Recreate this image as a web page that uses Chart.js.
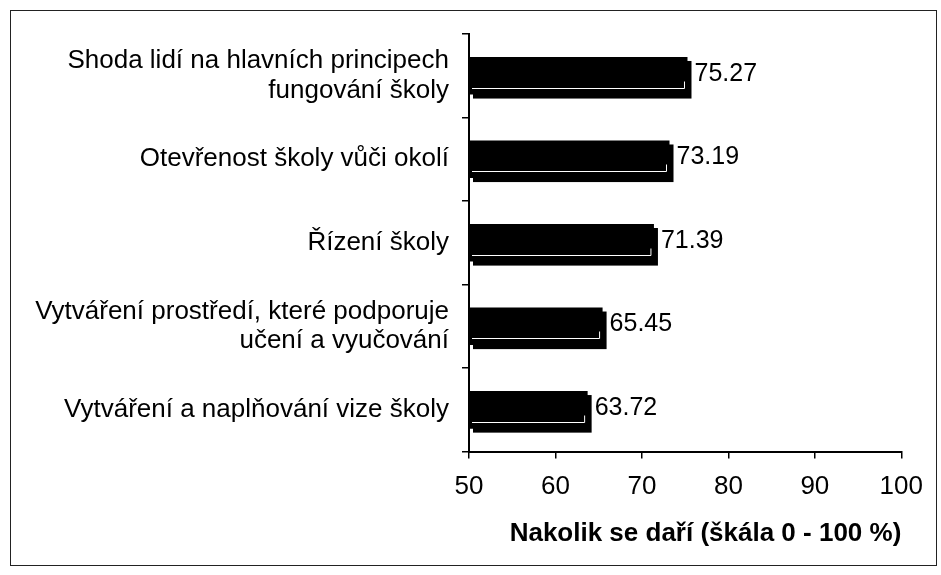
<!DOCTYPE html>
<html lang="cs">
<head>
    <meta charset="UTF-8">
    <title>Nakolik se daří</title>
    <script src="https://cdn.jsdelivr.net/npm/chart.js"></script>
    <style>
        body {
            margin: 0;
            background: #fff;
            font-family: "Liberation Sans", Arial, sans-serif;
        }
        .ramecek {
            position: absolute;
            left: 10px;
            top: 10px;
            width: 925px;
            height: 554px;
            border: 1.5px solid #222;
        }
    </style>
</head>
<body>
    <div class="ramecek">
        <canvas id="graf" width="925" height="554"></canvas>
    </div>

    <script>
        // oblasti a hodnoty
        const oblasti = [
            ["Shoda lidí na hlavních principech", "fungování školy"],
            "Otevřenost školy vůči okolí",
            "Řízení školy",
            ["Vytváření prostředí, které podporuje", "učení a vyučování"],
            "Vytváření a naplňování vize školy"
        ];
        const hodnoty = [75.27, 73.19, 71.39, 65.45, 63.72];
        const osaX = [50, 60, 70, 80, 90, 100];
        const popisX = "Nakolik se daří (škála 0 - 100 %)";

        // začátek sloupce = levý okraj osy (base sloupce je u nuly, mimo graf)
        function zacatek(chart, bar) {
            return Math.max(bar.base, chart.chartArea.left);
        }

        // stín za sloupci (3D efekt jako v Excelu)
        const stin = {
            id: "stin",
            beforeDatasetsDraw(chart) {
                const ctx = chart.ctx;
                ctx.save();
                ctx.fillStyle = "#000";
                chart.getDatasetMeta(0).data.forEach(bar => {
                    const x0 = zacatek(chart, bar);
                    const h = bar.height;
                    ctx.fillRect(x0 + 4, bar.y - h / 2 + 4, bar.x - x0, h);
                });
                ctx.restore();
            }
        };

        // bílá linka dole na sloupci + hodnoty vedle sloupců
        const popisky = {
            id: "popisky",
            afterDatasetsDraw(chart) {
                const ctx = chart.ctx;
                const bary = chart.getDatasetMeta(0).data;
                ctx.save();
                ctx.strokeStyle = "#fff";
                ctx.lineWidth = 1;
                bary.forEach(bar => {
                    const x0 = zacatek(chart, bar);
                    const y = Math.round(bar.y + bar.height / 2 - 7) + 0.5;
                    ctx.beginPath();
                    ctx.moveTo(x0 + 3, y);
                    ctx.lineTo(bar.x - 3, y);
                    ctx.lineTo(bar.x - 3, y - 7);
                    ctx.stroke();
                });
                ctx.fillStyle = "#000";
                ctx.font = "25px 'Liberation Sans', Arial, sans-serif";
                ctx.textBaseline = "middle";
                ctx.textAlign = "left";
                bary.forEach((bar, i) => {
                    ctx.fillText(hodnoty[i].toFixed(2), bar.x + 7, bar.y - 2);
                });
                ctx.restore();
            }
        };

        Chart.defaults.font.family = "'Liberation Sans', Arial, sans-serif";
        Chart.defaults.color = "#000";

        new Chart(document.getElementById("graf"), {
            type: "bar",
            data: {
                labels: oblasti,
                datasets: [{
                    data: hodnoty,
                    backgroundColor: "#000",
                    borderWidth: 0,
                    barPercentage: 0.45,
                    categoryPercentage: 1
                }]
            },
            options: {
                indexAxis: "y",
                responsive: false,
                animation: false,
                layout: { padding: { top: 23, right: 32, bottom: 14, left: 0 } },
                plugins: {
                    legend: { display: false },
                    tooltip: { enabled: false }
                },
                scales: {
                    x: {
                        min: 50,
                        max: 100,
                        afterBuildTicks(scale) {
                            scale.ticks = osaX.map(v => ({ value: v }));
                        },
                        grid: {
                            drawOnChartArea: false,
                            drawTicks: true,
                            tickLength: 7,
                            color: "#000",
                            lineWidth: 1.5
                        },
                        border: { color: "#000", width: 2 },
                        ticks: {
                            padding: 13,
                            font: { size: 26 }
                        },
                        title: {
                            display: true,
                            text: popisX,
                            align: "end",
                            font: { size: 26, weight: "bold" },
                            padding: { top: 2, bottom: 2 }
                        }
                    },
                    y: {
                        afterFit(scale) {
                            scale.width = 458;
                            scale.paddingTop = 0;
                            scale.paddingBottom = 0;
                        },
                        grid: {
                            drawOnChartArea: false,
                            drawTicks: true,
                            tickLength: 7,
                            color: "#000",
                            lineWidth: 1.5,
                            offset: true
                        },
                        border: { color: "#000", width: 2 },
                        ticks: {
                            padding: 13,
                            font: { size: 26, lineHeight: 1.15 }
                        }
                    }
                }
            },
            plugins: [stin, popisky]
        });
    </script>
</body>
</html>
